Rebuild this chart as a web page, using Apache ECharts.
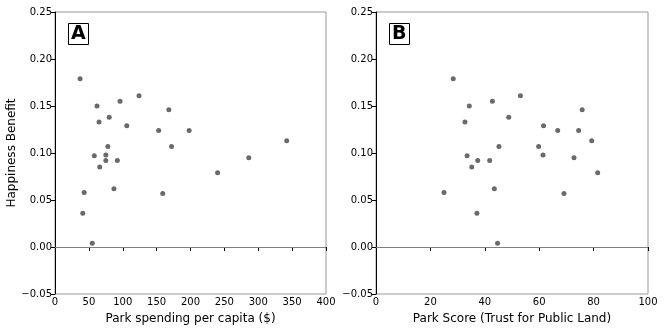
<!DOCTYPE html>
<html>
<head>
<meta charset="utf-8">
<script src="https://cdn.jsdelivr.net/npm/echarts@6/dist/echarts.min.js"></script>
<style>
  html, body { margin: 0; padding: 0; background: #fff; }
  #chart { width: 664px; height: 332px; }
</style>
</head>
<body>
<div id="chart"></div>
<script>
// panel A: park spending per capita ($) vs happiness benefit
var spending = [37, 62, 96, 124, 65, 80, 106, 168, 153, 198, 172, 78, 58, 75, 75, 92, 66, 43, 87, 159, 41, 55, 342, 286, 240];
var benefitA = [0.179, 0.150, 0.155, 0.161, 0.133, 0.138, 0.129, 0.146, 0.124, 0.124, 0.107, 0.107, 0.097, 0.098, 0.092, 0.092, 0.085, 0.058, 0.062, 0.057, 0.036, 0.004, 0.113, 0.095, 0.079];

// panel B: park score vs happiness benefit
var parkScore = [28.4, 34.3, 42.8, 53.1, 32.7, 48.8, 45.2, 33.5, 37.4, 41.8, 35.2, 25, 43.5, 37.1, 44.7, 75.8, 61.6, 66.8, 74.5, 79.3, 59.8, 61.4, 72.8, 81.5, 69.1];
var benefitB = [0.179, 0.150, 0.155, 0.161, 0.133, 0.138, 0.107, 0.097, 0.092, 0.092, 0.085, 0.058, 0.062, 0.036, 0.004, 0.146, 0.129, 0.124, 0.124, 0.113, 0.107, 0.098, 0.095, 0.079, 0.057];

var yTicks = [-0.05, 0.25, 0.05];
var FONT = 'DejaVu Sans';

function pairs(xs, ys) {
  return xs.map(function (x, i) { return [x, ys[i]]; });
}

function fmtY(v) {
  var s = Math.abs(v).toFixed(2);
  return v < 0 ? '\u2212' + s : s;
}

function xAxisOf(idx, max, interval, name) {
  return {
    gridIndex: idx, type: 'value', min: 0, max: max, interval: interval,
    name: name, nameLocation: 'middle', nameGap: 19,
    nameTextStyle: { fontFamily: FONT, fontSize: 12, color: '#000' },
    axisLine: { lineStyle: { color: '#000', width: 1 } },
    axisTick: { length: 4, lineStyle: { color: '#000' } },
    axisLabel: { fontFamily: FONT, fontSize: 10, color: '#000', margin: 3 },
    splitLine: { show: false }
  };
}

function yAxisOf(idx, name) {
  return {
    gridIndex: idx, type: 'value', min: yTicks[0], max: yTicks[1], interval: yTicks[2],
    name: name, nameLocation: 'middle', nameGap: 36,
    nameTextStyle: { fontFamily: FONT, fontSize: 12, color: '#000' },
    axisLine: { show: true, lineStyle: { color: '#000', width: 1 } },
    axisTick: { show: true, length: 4, lineStyle: { color: '#000' } },
    axisLabel: { fontFamily: FONT, fontSize: 10, color: '#000', margin: 3, formatter: fmtY },
    splitLine: { show: false }
  };
}

function scatterOf(idx, data) {
  return {
    type: 'scatter', xAxisIndex: idx, yAxisIndex: idx,
    data: data, symbolSize: 5,
    itemStyle: { color: '#6a6a6a', opacity: 1 },
    markLine: {
      silent: true, symbol: 'none', label: { show: false },
      lineStyle: { color: '#808080', width: 1, type: 'solid' },
      data: [{ yAxis: 0 }]
    }
  };
}

function labelBox(text, left) {
  return {
    text: text, left: left, top: 23,
    padding: [2, 3, 1, 3],
    borderColor: '#000', borderWidth: 1,
    textStyle: { fontFamily: FONT, fontSize: 19, fontWeight: 'bold', color: '#000' }
  };
}

var chart = echarts.init(document.getElementById('chart'));
chart.setOption({
  animation: false,
  backgroundColor: '#fff',
  title: [labelBox('A', 68), labelBox('B', 389)],
  grid: [
    { left: 55, right: 338, top: 12, bottom: 38, show: true, borderColor: '#999', borderWidth: 1 },
    { left: 376, right: 16, top: 12, bottom: 38, show: true, borderColor: '#999', borderWidth: 1 }
  ],
  xAxis: [
    xAxisOf(0, 400, 50, 'Park spending per capita ($)'),
    xAxisOf(1, 100, 20, 'Park Score (Trust for Public Land)')
  ],
  yAxis: [yAxisOf(0, 'Happiness Benefit'), yAxisOf(1, '')],
  series: [scatterOf(0, pairs(spending, benefitA)), scatterOf(1, pairs(parkScore, benefitB))]
});
</script>
</body>
</html>
